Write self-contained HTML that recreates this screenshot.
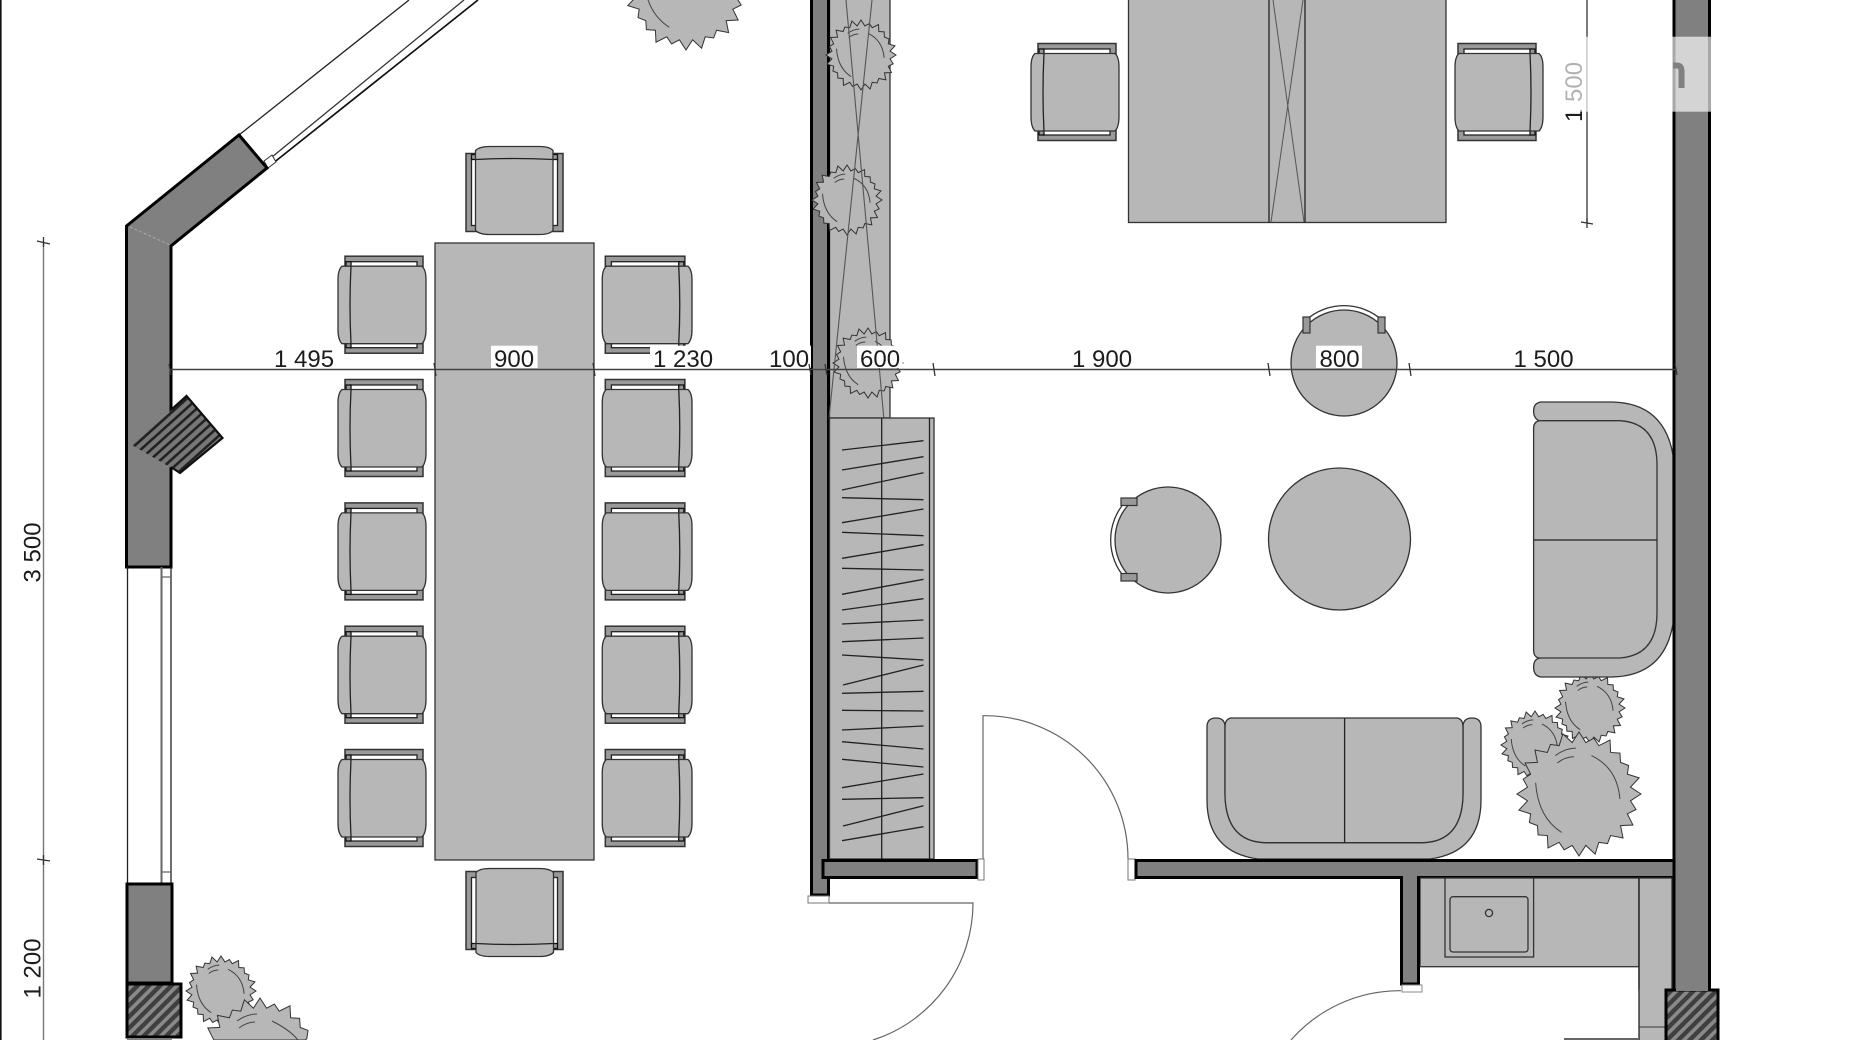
<!DOCTYPE html>
<html lang="en">
<head>
<meta charset="utf-8">
<title>Floor plan</title>
<style>
html,body{margin:0;padding:0;background:#fff;width:1850px;height:1040px;overflow:hidden}
svg{display:block;filter:blur(.35px)}
text{font-family:"Liberation Sans",sans-serif;font-size:24px;fill:#1c1c1c}
.f{fill:#b7b7b8;stroke:#333;stroke-width:1.3}
.w{fill:#808080;stroke:#000;stroke-width:3}
.t{fill:none;stroke:#666;stroke-width:1.2}
.l{fill:none;stroke:#222;stroke-width:1.3}
.d{fill:none;stroke:#444;stroke-width:1.5}
</style>
</head>
<body>
<svg width="1850" height="1040" viewBox="0 0 1850 1040" xmlns="http://www.w3.org/2000/svg">
<defs>
<pattern id="h" width="8" height="8" patternUnits="userSpaceOnUse" patternTransform="rotate(-45)">
<rect width="8" height="8" fill="#8a8a8a"/><rect width="8" height="4.4" fill="#3f3f3f"/>
</pattern>
<pattern id="v" width="7" height="7" patternUnits="userSpaceOnUse" patternTransform="rotate(-42)">
<rect width="7" height="7" fill="#777"/><rect width="7" height="2.6" fill="#222"/>
</pattern>
<g id="c">
<rect x="7" y="0.5" width="78" height="97" fill="#999" stroke="#333" stroke-width="1.5"/>
<rect x="12" y="6" width="67" height="86" fill="#fff" stroke="#222" stroke-width="1.3"/>
<rect x="8" y="6" width="5" height="5" fill="#999" stroke="#111" stroke-width="1.3"/>
<rect x="8" y="87" width="5" height="5" fill="#999" stroke="#111" stroke-width="1.3"/>
<path class="f" d="M4,10.5 H84 Q88,14 88,24 V74 Q88,84 84,88 H4 Q0,84 0,74 V24 Q0,14 4,10.5 Z"/>
<path class="l" d="M13,10.5 Q11,49 13,88"/>
</g>
<g id="p">
<polygon fill="#b7b7b8" stroke="#333" stroke-width="1" vector-effect="non-scaling-stroke" points="100,0 83,11 92,25 78,32 87,50 67,51 71,71 51,67 46,80 32,78 26,97 11,83 0,100 -11,83 -24,90 -32,78 -50,87 -51,67 -66,66 -67,51 -80,46 -78,32 -97,26 -83,11 -100,0 -83,-11 -90,-24 -78,-32 -87,-50 -67,-51 -71,-71 -51,-67 -46,-80 -32,-78 -26,-97 -11,-83 0,-100 11,-83 24,-90 32,-78 50,-87 51,-67 66,-66 67,-51 80,-46 78,-32 97,-26 83,-11"/>
<path fill="none" stroke="#444" stroke-width="1" vector-effect="non-scaling-stroke" d="M-38,-62 Q-22,-74 -5,-74 M-35,-50 Q-22,-60 -8,-60 M20,-62 Q62,-42 66,8 M-70,-18 Q-66,38 -28,62"/>
</g>
</defs>

<rect width="1850" height="1040" fill="#fff"/>
<rect x="0" y="0" width="1.6" height="1040" fill="#111"/>

<!-- diagonal window -->
<path d="M239,135 L409,0" class="l"/>
<path d="M267,168 L478,0" fill="none" stroke="#111" stroke-width="1.7"/>
<path d="M272,157 L464,0" fill="none" stroke="#333" stroke-width="1.3"/>
<path d="M264,161 L272,155 L276,162 L268,168 Z" fill="#fff" stroke="#333" stroke-width="1"/>

<!-- left wall -->
<polygon class="w" points="126.5,226 239,135 267,168 171,246 171,567 126.5,567"/>
<path d="M130,227 L170,245" stroke="#aaa" stroke-width="1" stroke-dasharray="3 2" fill="none"/>
<polygon points="186.5,396 222.5,438 180,473 132,445 170,412 171,410" fill="url(#v)"/>
<path d="M171,410 L186.5,396 L222.5,438 L180,473 L171,467" fill="none" stroke="#111" stroke-width="2.2"/>

<!-- left window -->
<path d="M127.5,567 V883 M171,567 V883" fill="none" stroke="#222" stroke-width="1.3"/>
<path d="M161.5,567 V883" fill="none" stroke="#666" stroke-width="2"/>
<path d="M161.5,577 H171 M161.5,872 H171" fill="none" stroke="#666" stroke-width="1.2"/>
<rect class="w" x="127" y="884" width="45" height="99"/>
<rect x="127" y="984" width="54" height="53" fill="url(#h)" stroke="#000" stroke-width="3"/>
<rect x="127" y="1038" width="45" height="2" fill="#808080"/>

<!-- dining table and chairs -->
<rect class="f" x="435" y="243" width="159" height="617" stroke="#555"/>
<use href="#c" transform="translate(338,255.7)"/>
<use href="#c" transform="translate(338,379)"/>
<use href="#c" transform="translate(338,502.4)"/>
<use href="#c" transform="translate(338,625.7)"/>
<use href="#c" transform="translate(338,749)"/>
<use href="#c" transform="translate(692,255.7) scale(-1.02,1)"/>
<use href="#c" transform="translate(692,379) scale(-1.02,1)"/>
<use href="#c" transform="translate(692,502.4) scale(-1.02,1)"/>
<use href="#c" transform="translate(692,625.7) scale(-1.02,1)"/>
<use href="#c" transform="translate(692,749) scale(-1.02,1)"/>
<use href="#c" transform="translate(514.5,190.5) rotate(90) translate(-44,-49)"/>
<use href="#c" transform="translate(514.5,912.5) rotate(-90) translate(-44,-49)"/>

<!-- desk -->
<rect class="f" x="1128.5" y="-5" width="317.5" height="227.5" stroke="#555"/>
<path class="l" d="M1269,0 V222.5 M1305,0 V222.5"/>
<path d="M1271,222 L1303,0 M1304,222 L1273,0" fill="none" stroke="#555" stroke-width="1"/>
<use href="#c" transform="translate(1031,43)"/>
<use href="#c" transform="translate(1543,43) scale(-1,1)"/>

<!-- planter strip -->
<rect class="f" x="829.5" y="-5" width="60.5" height="423" stroke="#333"/>

<!-- centre wall -->
<rect class="w" x="811.5" y="-5" width="17" height="900"/>

<!-- plants -->
<use href="#p" transform="translate(861,55) scale(.35)"/>
<use href="#p" transform="translate(847,200) scale(.35)"/>
<use href="#p" transform="translate(868,363) scale(.35)"/>
<path d="M846,0 L884,420 M872,0 L829,418" fill="none" stroke="#555" stroke-width="1.1"/>
<use href="#p" transform="translate(686,-10) scale(.6)"/>
<use href="#p" transform="translate(221,991) scale(.35)"/>
<polygon fill="#b7b7b8" stroke="#333" stroke-width="1" points="214,1040 213.2,1038.8 207.8,1028 219.8,1027.4 217.4,1015.4 229.4,1017.8 232.4,1010 240.8,1011.2 244.4,999.8 253.4,1008.2 260,998 266.6,1008.2 274.4,1004 279.2,1011.2 290,1005.8 290.6,1017.8 299.6,1018.4 300.2,1027.4 308,1030.4 306.8,1038.8 305,1040"/>
<path d="M237,1021 Q247,1014 257,1014 M239,1028 Q247,1022 255,1022 M272,1021 Q290,1030 298,1040" fill="none" stroke="#444" stroke-width="1"/>
<use href="#p" transform="translate(1590,708) scale(.35)"/>
<use href="#p" transform="translate(1535,745) scale(.34)"/>
<use href="#p" transform="translate(1579,794) scale(.62)"/>

<!-- wardrobe -->
<rect class="f" x="829.5" y="418" width="104.5" height="441" stroke="#444"/>
<path d="M929.5,418 V859 M881.7,418 V859" class="l"/>
<path fill="none" stroke="#222" stroke-width="1.3" d="M842,450 L923.5,440.7 M842,470 L923.5,456.7 M842,490 L923.5,472.7 M842,497.7 L923.5,499.7 M842,522.7 L923.5,509 M842,532.3 L923.5,535.7 M842,558.3 L923.5,544.7 M842,568.3 L923.5,570 M842,594.3 L923.5,579.3 M842,610 L923.5,598.7 M842,624 L923.5,620 M842,641.7 L923.5,638 M842,655 L923.5,660 M843,685 L923.5,665 M842,693.3 L923.5,691.3 M842,710.3 L923.5,711 M842,730 L923.5,726 M842,741.7 L923.5,749 M842,759.3 L923.5,767 M842,787.7 L923.5,774 M842,799.3 L923.5,797.7 M843,826 L923.5,805.7 M842,840.7 L923.5,826.7"/>

<!-- round tables -->
<path d="M1306,320 A57.5,57.5 0 0 1 1382,320 L1378,333 H1310 Z" fill="#fff" stroke="#333" stroke-width="1.3"/>
<circle class="f" cx="1344" cy="363" r="53"/>
<rect x="1303" y="317" width="7" height="16" fill="#999" stroke="#333" stroke-width="1.2"/>
<rect x="1378" y="317" width="7" height="16" fill="#999" stroke="#333" stroke-width="1.2"/>
<path d="M1125,502 A57.5,57.5 0 0 0 1125,578 L1135,575 V505 Z" fill="#fff" stroke="#333" stroke-width="1.3"/>
<circle class="f" cx="1168" cy="540" r="53"/>
<rect x="1121" y="498" width="16" height="7.5" fill="#999" stroke="#333" stroke-width="1.2"/>
<rect x="1121" y="573.5" width="16" height="7.5" fill="#999" stroke="#333" stroke-width="1.2"/>
<circle class="f" cx="1339.5" cy="539" r="71"/>

<!-- sofa right -->
<path class="f" d="M1541,402 H1612 Q1664,403 1673,455 V624 Q1664,676 1612,677 H1541 Q1533.6,676 1533.6,667 Q1533.6,659 1540,658 V421 Q1533.6,419 1533.6,411 Q1533.6,403 1541,402 Z"/>
<path class="f" d="M1539,420.7 H1620 Q1657,423 1657,465 V613 Q1657,655 1620,658 H1539 Q1533.6,657 1533.6,650 V428 Q1533.6,422 1539,420.7 Z"/>
<path class="l" d="M1534,540 H1657" stroke-width="1.8"/>

<!-- sofa bottom -->
<path class="f" d="M1207,727 Q1207,718 1216,718 Q1225,718 1225,727 V795 Q1226,842 1266,842.7 H1422 Q1462,842 1463,795 V727 Q1463,718 1472,718 Q1481,718 1481,727 V800 Q1481,852 1430,859 H1258 Q1207,852 1207,800 Z"/>
<path class="f" d="M1231,718 H1457 Q1463,719 1463,727 V795 Q1462,842 1422,842.7 H1266 Q1226,842 1225,795 V727 Q1225,719 1231,718 Z"/>
<path class="l" d="M1344.6,718 V842.7"/>

<!-- bottom walls -->
<rect class="w" x="823" y="860.5" width="154" height="17"/>
<rect x="978" y="859" width="6" height="21" fill="#fff" stroke="#777" stroke-width="1"/>
<rect x="1128" y="859" width="7" height="21" fill="#fff" stroke="#777" stroke-width="1"/>
<rect x="808" y="896" width="21" height="7" fill="#fff" stroke="#777" stroke-width="1"/>
<rect class="w" x="1136" y="860.5" width="540" height="17"/>

<!-- door arcs -->
<path class="t" d="M983,859 V715.7 A143.3,143.3 0 0 1 1128,859"/>
<path class="t" d="M829,903 H973 A144,144 0 0 1 873,1040"/>
<path class="t" d="M1401,990.7 A145,145 0 0 0 1291,1040"/>

<!-- kitchen -->
<rect class="f" x="1420" y="878" width="219" height="88.7" stroke="#777"/>
<rect class="f" x="1639" y="878" width="33" height="112" stroke="none"/>
<rect x="1639" y="988" width="27" height="52" fill="#b7b7b8"/>
<path d="M1639,878 V1040" class="l"/>
<path d="M1639,1027 H1666" fill="none" stroke="#333" stroke-width="1"/>
<rect x="1564" y="1038" width="75" height="2" fill="#666"/>
<rect class="f" x="1445" y="878" width="88.6" height="79"/>
<rect class="f" x="1450" y="896.7" width="78" height="55.3" rx="3"/>
<circle cx="1489" cy="913" r="3.6" fill="none" stroke="#333" stroke-width="1.3"/>
<rect class="w" x="1401.5" y="878" width="17" height="106"/>
<rect x="1402" y="985" width="20" height="7" fill="#fff" stroke="#888" stroke-width="1"/>
<rect x="1403" y="868" width="14" height="18" fill="#808080"/>

<!-- right wall -->
<rect class="w" x="1674" y="-5" width="35.5" height="995"/>
<rect x="1666" y="990" width="52" height="50" fill="url(#h)"/>
<path d="M1666,1040 V990 H1718 V1040" fill="none" stroke="#000" stroke-width="3"/>
<rect x="1676" y="982" width="32" height="9" fill="#808080"/>

<!-- text backgrounds -->
<rect x="491" y="345.7" width="46.6" height="22.3" fill="#fff"/>
<rect x="650" y="345.7" width="64" height="22.3" fill="#fff"/>
<rect x="768" y="345.7" width="43" height="22.3" fill="#fff"/>
<rect x="857" y="345.7" width="45.6" height="22.3" fill="#fff"/>
<rect x="1316" y="345.7" width="46" height="22.3" fill="#fff"/>

<!-- dimensions -->
<path d="M170,369.5 H1676" fill="none" stroke="#444" stroke-width="1.4"/>
<path d="M43.5,242 V1040" fill="none" stroke="#777" stroke-width="1.4"/>
<path d="M1587,0 V222.7" fill="none" stroke="#333" stroke-width="1.3"/>
<path fill="none" stroke="#333" stroke-width="1.3" d="M169,364 L171,375 M434,363 L436,376 M593,363 L595,376 M809,364 L811,375 M825,364 L827,375 M933,363 L935,376 M1268,363 L1270,376 M1409,363 L1411,376 M1675,364 L1677,375 M37,241 L50,244 M43.5,237 V247 M37,859 L50,861 M43.5,855 V865 M1581,222 L1593,224 M1587,218 V228"/>

<text x="274" y="367">1 495</text>
<text x="494" y="367">900</text>
<text x="653" y="367">1 230</text>
<text x="769" y="367">100</text>
<text x="860" y="367">600</text>
<text x="1072" y="367">1 900</text>
<text x="1319.5" y="367">800</text>
<text x="1513.5" y="367">1 500</text>
<text transform="translate(40.5,582.5) rotate(-90)">3 500</text>
<text transform="translate(40.5,998.5) rotate(-90)">1 200</text>
<text transform="translate(1582,122) rotate(-90)">1 500</text>

<!-- watermark overlay -->
<rect x="1556" y="36.7" width="155" height="75" fill="#fff" fill-opacity=".66"/>
<rect x="1587.6" y="36.7" width="84" height="75" fill="#fff"/>
<path d="M1673,65.5 H1677 Q1681.5,65.5 1681.5,71 V88" fill="none" stroke="#808080" stroke-width="6"/>
</svg>
</body>
</html>
